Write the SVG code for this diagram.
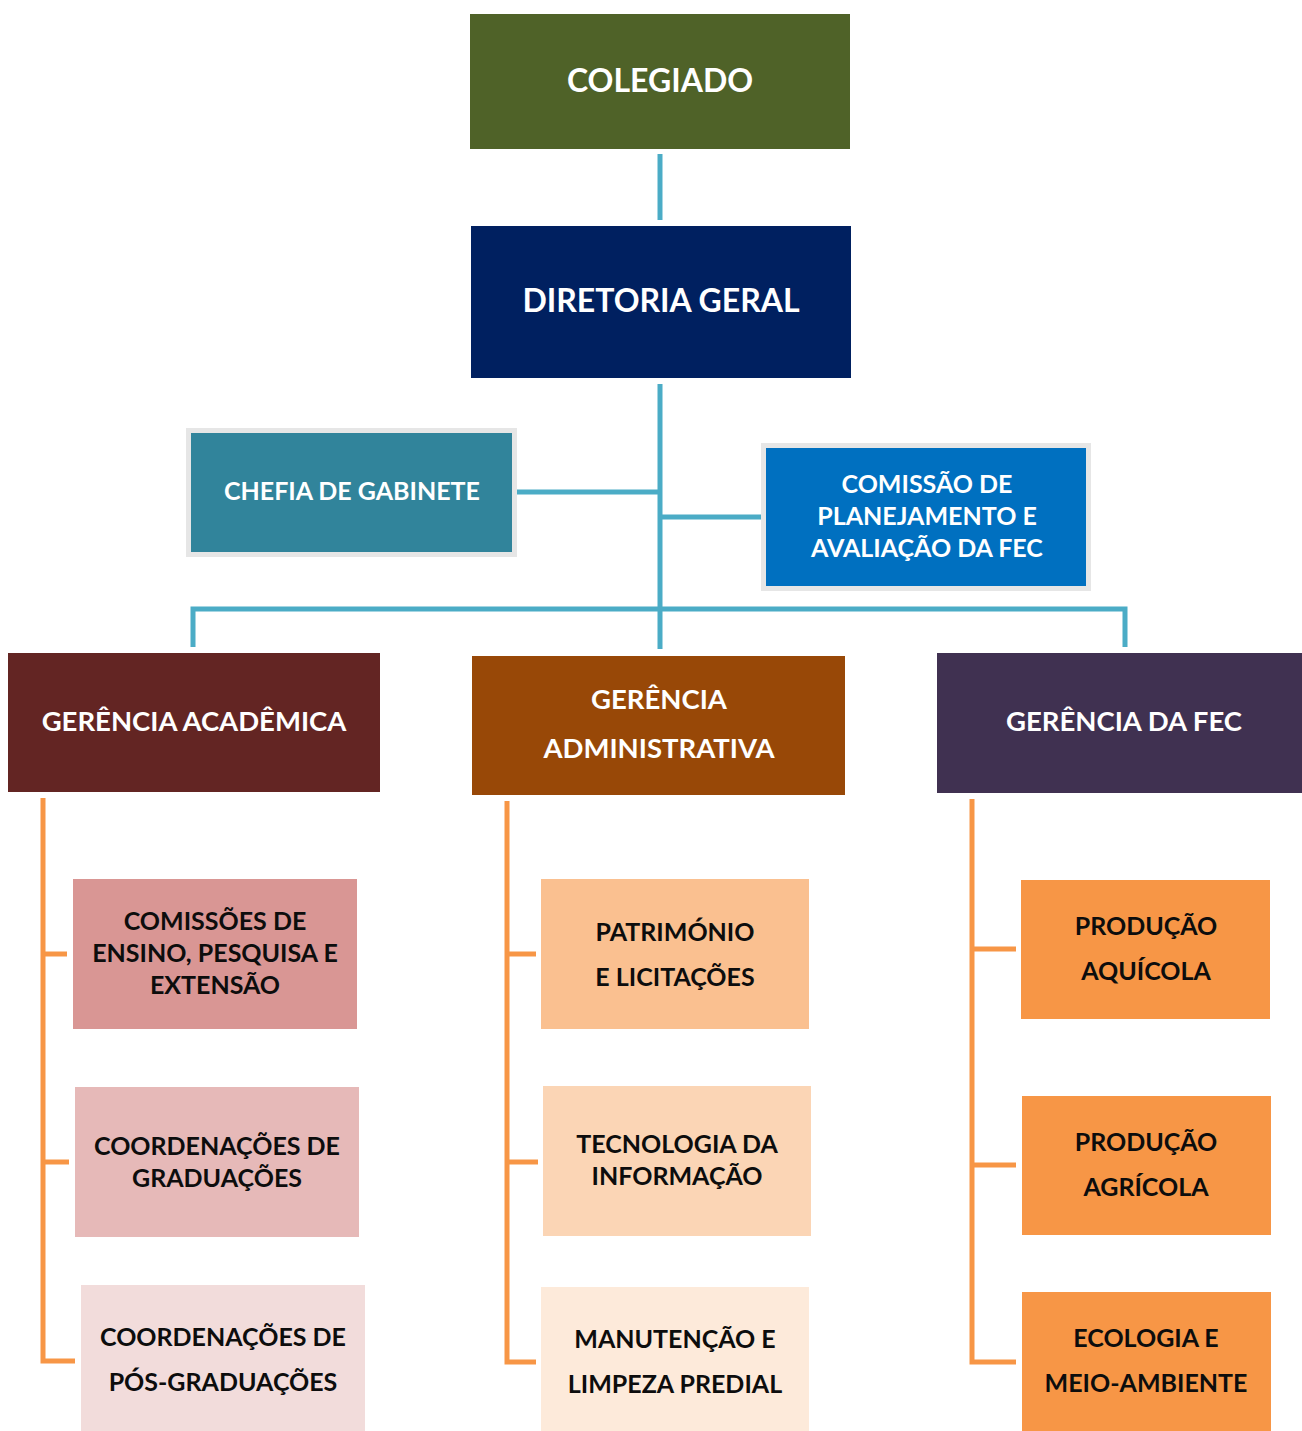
<svg xmlns="http://www.w3.org/2000/svg" width="1302" height="1431" viewBox="0 0 1302 1431">
<style>
text{font-family:Lato,"Liberation Sans",sans-serif;font-weight:bold;text-anchor:middle}
.w{fill:#ffffff}
.k{fill:#0d0d0d}
.big{font-size:32px}
.mid{font-size:27.5px}
.sm{font-size:25px}
.ch{font-size:25px}
.blue{stroke:#4BACC6;stroke-width:5;fill:none}
.or{stroke:#F79646;stroke-width:5;fill:none}
</style>
<rect width="1302" height="1431" fill="#ffffff"/>
<g id="connectors">
<line class="blue" x1="660" y1="154" x2="660" y2="220"/>
<line class="blue" x1="660" y1="384" x2="660" y2="649"/>
<line class="blue" x1="517" y1="492" x2="660" y2="492"/>
<line class="blue" x1="660" y1="517" x2="761" y2="517"/>
<polyline class="blue" points="193,647 193,609 1125,609 1125,647"/>
<polyline class="or" points="43,798 43,1361 75,1361"/>
<line class="or" x1="43" y1="954" x2="67" y2="954"/>
<line class="or" x1="43" y1="1162" x2="69" y2="1162"/>
<polyline class="or" points="507,801 507,1362 536,1362"/>
<line class="or" x1="507" y1="954" x2="536" y2="954"/>
<line class="or" x1="507" y1="1162" x2="538" y2="1162"/>
<polyline class="or" points="972,799 972,1362 1016,1362"/>
<line class="or" x1="972" y1="949" x2="1016" y2="949"/>
<line class="or" x1="972" y1="1165" x2="1016" y2="1165"/>
</g>
<g id="colegiado"><rect x="470" y="14" width="380" height="135" fill="#4F6228"/><text class="w big" x="660" y="92">COLEGIADO</text></g>
<g id="diretoria"><rect x="471" y="226" width="380" height="152" fill="#002060"/><text class="w big" x="661" y="312">DIRETORIA GERAL</text></g>
<g id="chefia"><rect x="188.5" y="430.5" width="326" height="124" fill="#31849B" stroke="#E6E6E6" stroke-width="5"/><text class="w sm" x="352" y="500">CHEFIA DE GABINETE</text></g>
<g id="comissao"><rect x="763.5" y="445.5" width="325" height="143" fill="#0070C0" stroke="#E6E6E6" stroke-width="5"/><text class="w sm" x="927" y="493">COMISSÃO DE</text><text class="w sm" x="927" y="525">PLANEJAMENTO E</text><text class="w sm" x="927" y="557">AVALIAÇÃO DA FEC</text></g>
<g id="ger-academica"><rect x="8" y="653" width="372" height="139" fill="#632523"/><text class="w mid" x="194" y="731">GERÊNCIA ACADÊMICA</text></g>
<g id="ger-administrativa"><rect x="472" y="656" width="373" height="139" fill="#984807"/><text class="w mid" x="659" y="709">GERÊNCIA</text><text class="w mid" x="659" y="758">ADMINISTRATIVA</text></g>
<g id="ger-fec"><rect x="937" y="653" width="365" height="140" fill="#403151"/><text class="w mid" x="1124" y="731">GERÊNCIA DA FEC</text></g>
<g id="comissoes-ensino"><rect x="73" y="879" width="284" height="150" fill="#D99694"/><text class="k ch" x="215" y="930">COMISSÕES DE</text><text class="k ch" x="215" y="962">ENSINO, PESQUISA E</text><text class="k ch" x="215" y="994">EXTENSÃO</text></g>
<g id="coord-graduacoes"><rect x="75" y="1087" width="284" height="150" fill="#E6B9B8"/><text class="k ch" x="217" y="1155">COORDENAÇÕES DE</text><text class="k ch" x="217" y="1187">GRADUAÇÕES</text></g>
<g id="coord-pos"><rect x="81" y="1285" width="284" height="146" fill="#F2DCDB"/><text class="k ch" x="223" y="1346">COORDENAÇÕES DE</text><text class="k ch" x="223" y="1391">PÓS-GRADUAÇÕES</text></g>
<g id="patrimonio"><rect x="541" y="879" width="268" height="150" fill="#FAC090"/><text class="k ch" x="675" y="941">PATRIMÓNIO</text><text class="k ch" x="675" y="986">E LICITAÇÕES</text></g>
<g id="ti"><rect x="543" y="1086" width="268" height="150" fill="#FBD5B5"/><text class="k ch" x="677" y="1153">TECNOLOGIA DA</text><text class="k ch" x="677" y="1185">INFORMAÇÃO</text></g>
<g id="manutencao"><rect x="541" y="1287" width="268" height="144" fill="#FDEADA"/><text class="k ch" x="675" y="1348">MANUTENÇÃO E</text><text class="k ch" x="675" y="1393">LIMPEZA PREDIAL</text></g>
<g id="aquicola"><rect x="1021" y="880" width="249" height="139" fill="#F79646"/><text class="k ch" x="1146" y="935">PRODUÇÃO</text><text class="k ch" x="1146" y="980">AQUÍCOLA</text></g>
<g id="agricola"><rect x="1022" y="1096" width="249" height="139" fill="#F79646"/><text class="k ch" x="1146" y="1151">PRODUÇÃO</text><text class="k ch" x="1146" y="1196">AGRÍCOLA</text></g>
<g id="ecologia"><rect x="1022" y="1292" width="249" height="139" fill="#F79646"/><text class="k ch" x="1146" y="1347">ECOLOGIA E</text><text class="k ch" x="1146" y="1392">MEIO-AMBIENTE</text></g>
</svg>
